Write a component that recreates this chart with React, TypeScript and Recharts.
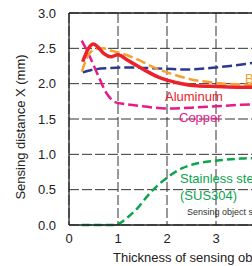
import React from "react";
import { LineChart, Line, XAxis, YAxis, CartesianGrid, ReferenceLine } from "recharts";

const aluminumX = [0.28, 0.4, 0.5, 0.6, 0.72, 0.85, 1.0, 1.2, 1.4, 1.6, 1.8, 2.0, 2.3, 2.6, 3.0, 3.5, 4.0, 5.0];
const aluminumY = [2.31, 2.5, 2.56, 2.51, 2.42, 2.38, 2.41, 2.33, 2.25, 2.17, 2.1, 2.05, 2.0, 1.97, 1.96, 1.95, 1.95, 1.95];

const brassX = [0.26, 0.42, 0.55, 0.69, 0.9, 1.16, 1.5, 1.7, 2.0, 2.5, 3.0, 3.5, 4.0, 5.0];
const brassY = [2.17, 2.43, 2.49, 2.5, 2.46, 2.41, 2.31, 2.24, 2.16, 2.06, 2.01, 1.99, 1.98, 1.97];

const ironX = [0.28, 0.5, 0.85, 1.2, 1.65, 2.0, 2.33, 2.7, 3.0, 3.4, 3.7, 4.0, 5.0];
const ironY = [2.16, 2.2, 2.22, 2.23, 2.22, 2.21, 2.2, 2.21, 2.23, 2.26, 2.29, 2.32, 2.4];

const copperX = [0.26, 0.4, 0.56, 0.77, 0.94, 1.16, 1.5, 2.0, 2.5, 3.0, 3.5, 4.0, 5.0];
const copperY = [2.61, 2.42, 2.17, 1.86, 1.74, 1.71, 1.68, 1.65, 1.66, 1.68, 1.7, 1.71, 1.72];

const stainlessX = [0.26, 0.6, 0.97, 1.05, 1.2, 1.4, 1.65, 2.0, 2.3, 2.6, 3.0, 3.5, 4.0, 5.0];
const stainlessY = [0, 0, 0, 0.03, 0.11, 0.24, 0.45, 0.67, 0.8, 0.87, 0.91, 0.94, 0.95, 0.96];

const xTicks = [0, 1, 2, 3, 4, 5];
const yTicks = [0, 0.5, 1.0, 1.5, 2.0, 2.5, 3.0];

const toData = (xs: number[], ys: number[]) => xs.map((x, i) => ({ t: x, v: ys[i] }));

const FONT = "'Liberation Sans', Arial, Helvetica, sans-serif";

const label = (text: string, left: number, cy: number, color: string, size = 13) => (
  <div
    style={{
      position: "absolute",
      left,
      top: cy - size / 2,
      fontSize: size,
      lineHeight: `${size}px`,
      color,
      fontFamily: FONT,
      whiteSpace: "nowrap",
    }}
  >
    {text}
  </div>
);

export default function App() {
  return (
    <div
      style={{
        position: "absolute",
        left: 0,
        top: 0,
        width: 252,
        height: 266,
        overflow: "hidden",
        background: "#fff",
        fontFamily: FONT,
      }}
    >
      <LineChart width={340} height={266} margin={{ top: 13, right: 26, bottom: 11, left: 0 }}>
        <CartesianGrid stroke="#333" strokeWidth={1} strokeDasharray="10 3" />
        <XAxis
          type="number"
          dataKey="t"
          domain={[0, 5]}
          ticks={xTicks}
          allowDataOverflow
          height={30}
          tickLine={false}
          tickSize={7}
          tickMargin={2}
          axisLine={{ stroke: "#222", strokeWidth: 1.3 }}
          tick={{ fontSize: 13, fill: "#222", fontFamily: FONT }}
        />
        <YAxis
          type="number"
          domain={[0, 3]}
          ticks={yTicks}
          width={69}
          tickLine={false}
          tickSize={6}
          tickMargin={7}
          tickFormatter={(v: number) => v.toFixed(1)}
          axisLine={{ stroke: "#222", strokeWidth: 1.3 }}
          tick={{ fontSize: 13, fill: "#222", fontFamily: FONT }}
        />
        <ReferenceLine y={3} stroke="#222" strokeWidth={1.3} />
        <Line data={toData(stainlessX, stainlessY)} dataKey="v" type="monotone" stroke="#0aa54d" strokeWidth={2.5} strokeDasharray="8 4" dot={false} isAnimationActive={false} />
        <Line data={toData(copperX, copperY)} dataKey="v" type="monotone" stroke="#e8198b" strokeWidth={2.5} strokeDasharray="10 4" dot={false} isAnimationActive={false} />
        <Line data={toData(ironX, ironY)} dataKey="v" type="monotone" stroke="#2b3990" strokeWidth={2.5} strokeDasharray="10 4" dot={false} isAnimationActive={false} />
        <Line data={toData(brassX, brassY)} dataKey="v" type="monotone" stroke="#f5a030" strokeWidth={2.5} strokeDasharray="10 4" dot={false} isAnimationActive={false} />
        <Line data={toData(aluminumX, aluminumY)} dataKey="v" type="monotone" stroke="#ec2229" strokeWidth={3.5} dot={false} isAnimationActive={false} />
      </LineChart>
      {label("Aluminum", 165, 96, "#ec2229")}
      {label("Copper", 179, 117, "#e8198b")}
      {label("Brass", 245, 78, "#f5a030")}
      {label("Stainless steel", 180, 178, "#0aa54d")}
      {label("(SUS304)", 180, 195, "#0aa54d")}
      {label("Sensing object size: 30 × 30 mm", 187, 212, "#333", 9)}
      {label("Thickness of sensing object t (mm)", 113, 257, "#222")}
      <div
        style={{
          position: "absolute",
          left: 20,
          top: 127,
          transform: "translate(-50%, -50%) rotate(-90deg)",
          fontSize: 13,
          lineHeight: "13px",
          color: "#222",
          fontFamily: FONT,
          whiteSpace: "nowrap",
        }}
      >
        Sensing distance X (mm)
      </div>
    </div>
  );
}
